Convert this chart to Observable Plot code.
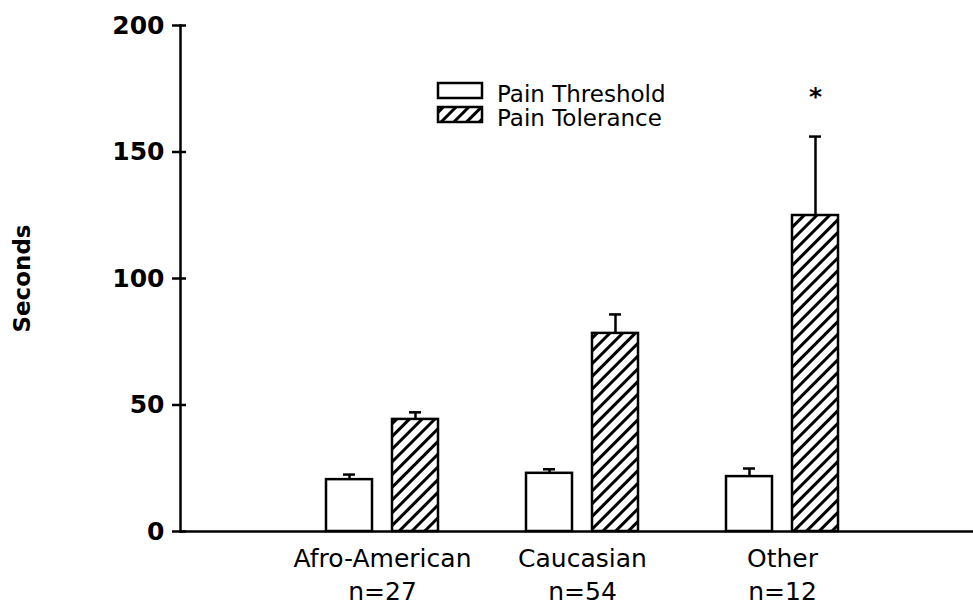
<!DOCTYPE html>
<html><head><meta charset="utf-8">
<script src="https://cdn.jsdelivr.net/npm/d3@7"></script>
<script src="https://cdn.jsdelivr.net/npm/@observablehq/plot@0.6"></script>
<style>
body{margin:0;background:#fff;}
#wrap{position:relative;width:973px;height:609px;}
#legend{position:absolute;left:0;top:0;}
</style></head><body>
<svg width="0" height="0" style="position:absolute">
<defs>
<pattern id="hatch" patternUnits="userSpaceOnUse" width="9" height="9" patternTransform="rotate(45)">
<rect width="9" height="9" fill="white"/>
<line x1="4.5" y1="0" x2="4.5" y2="9" stroke="black" stroke-width="3"/>
</pattern>
</defs></svg>
<div id="wrap"></div>
<script>
// ---- data ----
const groups = ["Afro-American", "Caucasian", "Other"];
const nCounts = [27, 54, 12];
const seriesNames = ["Pain Threshold", "Pain Tolerance"];
const thresholdMean = [20.5, 23.0, 21.7];
const thresholdSE = [2.0, 1.6, 3.2];
const toleranceMean = [44.3, 78.3, 124.9];
const toleranceSE = [2.8, 7.5, 31.2];
const significance = ["", "", "*"];
const yTicks = [0, 50, 100, 150, 200];
const yLabel = "Seconds";

const thr = groups.map((g, i) => ({group: g, mean: thresholdMean[i], se: thresholdSE[i]}));
const tol = groups.map((g, i) => ({group: g, mean: toleranceMean[i], se: toleranceSE[i], sig: significance[i]}));

const SW = 2.5;
const barOpts = {x: "group", y: "mean", stroke: "black", strokeWidth: SW, insetLeft: 77, insetRight: 77};
const errRule = {x: "group", y1: "mean", y2: d => d.mean + d.se, stroke: "black", strokeWidth: SW};
const errCap = {x: "group", y: d => d.mean + d.se, stroke: "black", strokeWidth: SW, insetLeft: 94, insetRight: 94};

const plot = Plot.plot({
  width: 973, height: 609,
  marginLeft: 180, marginRight: 0, marginTop: 25, marginBottom: 78,
  style: {fontFamily: "DejaVu Sans", fontSize: "25px", color: "black", background: "white", overflow: "visible"},
  x: {type: "band", domain: groups, paddingInner: 0, paddingOuter: 0.4825, align: 0.53, axis: null},
  y: {domain: [0, 200], axis: null},
  marks: [
    Plot.barY(thr, {...barOpts, fill: "white", dx: -33}),
    Plot.barY(tol, {...barOpts, fill: "url(#hatch)", dx: 33}),
    Plot.ruleX(thr, {...errRule, dx: -33}),
    Plot.tickY(thr, {...errCap, dx: -33}),
    Plot.ruleX(tol, {...errRule, dx: 33}),
    Plot.tickY(tol, {...errCap, dx: 33}),
    Plot.text(tol, {x: "group", y: d => d.mean + d.se, text: "sig", dx: 33, dy: -40, fontSize: 25, fontWeight: "bold", fontFamily: "DejaVu Sans"}),
    Plot.ruleY([0], {strokeWidth: SW}),
    Plot.frame({anchor: "left", strokeWidth: SW}),
    Plot.axisX({anchor: "bottom", tickSize: 0, tickPadding: 12, lineHeight: 1.32, fontSize: 25, label: null,
      tickFormat: d => `${d}\nn=${nCounts[groups.indexOf(d)]}`}),
    Plot.axisY({anchor: "left", ticks: yTicks, tickSize: 0, tickPadding: 16, fontWeight: "bold", fontSize: 25, label: null}),
    Plot.axisY({anchor: "left", ticks: yTicks, tickSize: 14, dx: 6, strokeWidth: SW, tickFormat: () => "", label: null}),
    Plot.text([yLabel], {frameAnchor: "left", textAnchor: "middle", rotate: -90, dx: -158, fontWeight: "bold", fontSize: 23, fontFamily: "DejaVu Sans"})
  ]
});
const wrap = document.getElementById("wrap");
wrap.appendChild(plot);

// legend
const legendFills = ["white", "url(#hatch)"];
const lg = d3.select(wrap).append("svg").attr("id", "legend").attr("width", 973).attr("height", 609)
  .style("pointer-events", "none");
seriesNames.forEach((name, i) => {
  const g = lg.append("g").attr("transform", `translate(437,${83 + i * 24})`);
  g.append("rect").attr("x", 1).attr("y", 0).attr("width", 44).attr("height", 15)
    .attr("fill", legendFills[i]).attr("stroke", "black").attr("stroke-width", SW);
  g.append("text").attr("x", 60).attr("y", 19).text(name)
    .attr("font-family", "DejaVu Sans").attr("font-size", 23).attr("fill", "black");
});
</script>
</body></html>
